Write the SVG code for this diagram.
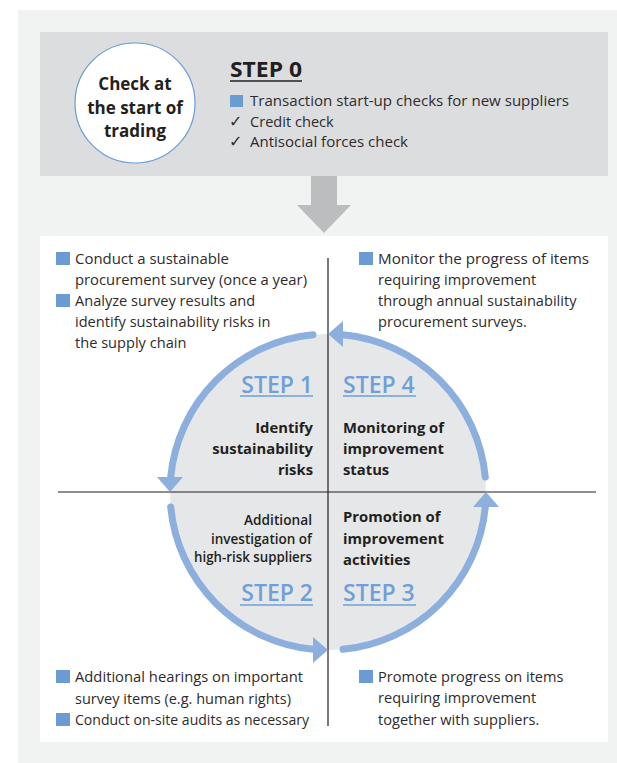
<svg xmlns="http://www.w3.org/2000/svg" width="617" height="763" viewBox="0 0 617 763">
<style>
text{font-family:"Open Sans","Noto Sans","DejaVu Sans",sans-serif}
.body{font-size:14.6px;fill:#2f2b2c}
.chk{font-size:16px;fill:#2f2b2c;font-family:"DejaVu Sans",sans-serif}
.bold{font-size:14.8px;font-weight:700;fill:#231f20}
.cond{font-size:14px;font-weight:600;fill:#231f20}
.circ{font-size:17px;font-weight:700;fill:#231f20;text-anchor:middle}
.step{font-size:23px;font-weight:600;fill:#6f9fd8}
.end{text-anchor:end}
.sq{fill:#6a9bd3}
.ul{stroke:#6f9fd8;stroke-width:1.6}
.axis{stroke:#231f20;stroke-width:1.2}
.arc{fill:none;stroke:#8cafde;stroke-width:7;stroke-linecap:round}
.head{fill:#8cafde}
</style>
<rect x="18" y="10" width="599" height="753" fill="#f1f2f2"/>
<g id="step0">
<rect x="40" y="32" width="568" height="144" fill="#dcddde"/>
<circle cx="135" cy="103" r="60" fill="#ffffff" stroke="#6a9bd8" stroke-width="1.2"/>
<text class="circ" x="135" y="90">Check at</text>
<text class="circ" x="135" y="114">the start of</text>
<text class="circ" x="135" y="137">trading</text>
<text x="230" y="77" font-size="22" font-weight="700" fill="#231f20" textLength="72" lengthAdjust="spacingAndGlyphs">STEP 0</text>
<line x1="230" y1="81" x2="302" y2="81" stroke="#231f20" stroke-width="1.6"/>
<rect class="sq" x="230" y="95" width="13" height="12"/>
<text class="body" x="250" y="106" textLength="319" lengthAdjust="spacingAndGlyphs">Transaction start-up checks for new suppliers</text>
<text class="chk" x="229" y="127">✓</text>
<text class="body" x="250" y="127">Credit check</text>
<text class="chk" x="229" y="147">✓</text>
<text class="body" x="250" y="147" textLength="158" lengthAdjust="spacingAndGlyphs">Antisocial forces check</text>
</g>
<rect x="40" y="236" width="568" height="506" fill="#ffffff"/>
<circle id="cycle" cx="328" cy="492" r="158" fill="#e6e7e8"/>
<g id="axes">
<line class="axis" x1="328" y1="258" x2="328" y2="726"/>
<line class="axis" x1="58" y1="492" x2="596" y2="492"/>
</g>
<g id="connectors">
<polygon points="311,176 337,176 337,205 351,205 324,233 297,205 311,205" fill="#bcbdbf"/>
<path class="arc" d="M312.9,334.7 A158,158 0 0 0 170.7,477"/>
<polygon class="head" points="170,492 157,477 183,477"/>
<path class="arc" d="M170.7,507 A158,158 0 0 0 312.9,649.3"/>
<polygon class="head" points="328,650 313,637 313,663"/>
<path class="arc" d="M343.1,649.3 A158,158 0 0 0 485.3,507"/>
<polygon class="head" points="486,492 473,507 499,507"/>
<path class="arc" d="M485.3,477 A158,158 0 0 0 343.1,334.7"/>
<polygon class="head" points="328,334 343,321 343,347"/>
</g>
<g id="step1">
<text class="step end" x="313" y="393">STEP 1</text>
<line class="ul" x1="240" y1="396" x2="313" y2="396"/>
<text class="bold end" x="313" y="433">Identify</text>
<text class="bold end" x="313" y="454">sustainability</text>
<text class="bold end" x="313" y="475">risks</text>
</g>
<g id="step4">
<text class="step" x="343" y="393">STEP 4</text>
<line class="ul" x1="343" y1="396" x2="416" y2="396"/>
<text class="bold" x="343" y="433">Monitoring of</text>
<text class="bold" x="343" y="454">improvement</text>
<text class="bold" x="343" y="475">status</text>
</g>
<g id="step2">
<text class="cond end" x="312" y="525" textLength="68" lengthAdjust="spacingAndGlyphs">Additional</text>
<text class="cond end" x="312" y="544" textLength="101" lengthAdjust="spacingAndGlyphs">investigation of</text>
<text class="cond end" x="312" y="562" textLength="118" lengthAdjust="spacingAndGlyphs">high-risk suppliers</text>
<text class="step end" x="313" y="601">STEP 2</text>
<line class="ul" x1="240" y1="605" x2="313" y2="605"/>
</g>
<g id="step3">
<text class="bold" x="343" y="522">Promotion of</text>
<text class="bold" x="343" y="544">improvement</text>
<text class="bold" x="343" y="565">activities</text>
<text class="step" x="343" y="601">STEP 3</text>
<line class="ul" x1="343" y1="605" x2="416" y2="605"/>
</g>
<g id="note1">
<rect class="sq" x="56" y="252" width="14" height="13"/>
<text class="body" x="75" y="264" textLength="154" lengthAdjust="spacingAndGlyphs">Conduct a sustainable</text>
<text class="body" x="75" y="285" textLength="232" lengthAdjust="spacingAndGlyphs">procurement survey (once a year)</text>
<rect class="sq" x="56" y="294" width="14" height="13"/>
<text class="body" x="75" y="306">Analyze survey results and</text>
<text class="body" x="75" y="327">identify sustainability risks in</text>
<text class="body" x="75" y="348">the supply chain</text>
</g>
<g id="note4">
<rect class="sq" x="359" y="252" width="14" height="13"/>
<text class="body" x="378" y="264" textLength="211" lengthAdjust="spacingAndGlyphs">Monitor the progress of items</text>
<text class="body" x="378" y="285">requiring improvement</text>
<text class="body" x="378" y="306">through annual sustainability</text>
<text class="body" x="378" y="327">procurement surveys.</text>
</g>
<g id="note2">
<rect class="sq" x="56" y="670" width="14" height="13"/>
<text class="body" x="75" y="682" textLength="228" lengthAdjust="spacingAndGlyphs">Additional hearings on important</text>
<text class="body" x="75" y="704" textLength="216" lengthAdjust="spacingAndGlyphs">survey items (e.g. human rights)</text>
<rect class="sq" x="56" y="713" width="14" height="13"/>
<text class="body" x="75" y="725" textLength="234" lengthAdjust="spacingAndGlyphs">Conduct on-site audits as necessary</text>
</g>
<g id="note3">
<rect class="sq" x="359" y="670" width="14" height="13"/>
<text class="body" x="378" y="682">Promote progress on items</text>
<text class="body" x="378" y="703">requiring improvement</text>
<text class="body" x="378" y="725">together with suppliers.</text>
</g>
</svg>
